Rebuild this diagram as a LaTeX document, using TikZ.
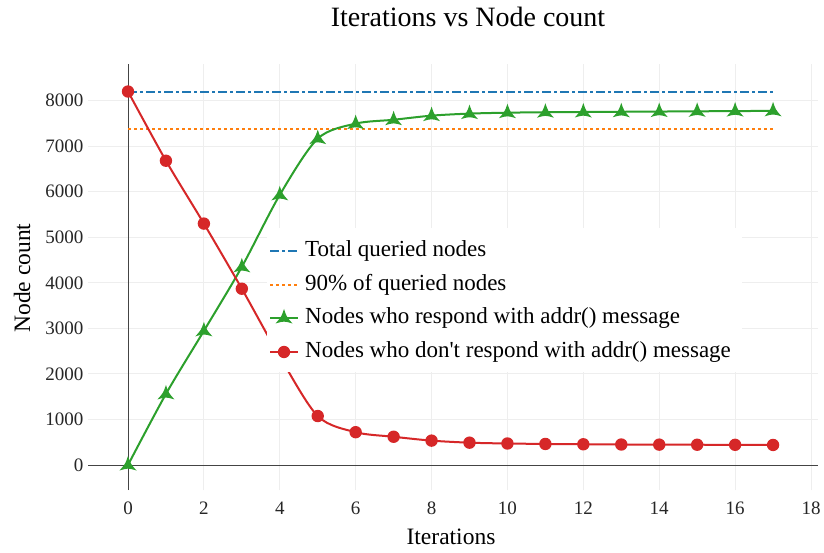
\documentclass[tikz,border=0pt]{standalone}
\usepackage{fontspec}
\setmainfont{Liberation Serif}[Ligatures=TeXOff]
\definecolor{pblue}{HTML}{1F77B4}
\definecolor{porange}{HTML}{FF7F0E}
\definecolor{pgreen}{HTML}{2CA02C}
\definecolor{pred}{HTML}{D62728}
\definecolor{gridc}{HTML}{EEEEEE}
\definecolor{zeroc}{HTML}{444444}
\tikzset{
  gridline/.style={draw=gridc, line width=1pt},
  zeroline/.style={draw=zeroc, line width=1pt},
  ticklab/.style={font=\fontsize{19}{19}\selectfont, text=black!85, inner sep=0pt},
  legtext/.style={font=\fontsize{23}{23}\selectfont, anchor=west, inner sep=0pt},
  totline/.style={draw=pblue, line width=2pt, dash pattern=on 9pt off 3pt on 3pt off 3pt},
  pctline/.style={draw=porange, line width=2pt, dash pattern=on 3pt off 3pt},
  respline/.style={draw=pgreen, line width=2pt},
  noline/.style={draw=pred, line width=2pt},
  trimark/.pic={\fill[pgreen, x=1pt, y=1pt] (0,9) .. controls (-2.6,1.2) .. (-8.5,-5.5) .. controls (0,-3) .. (8.5,-5.5) .. controls (2.6,1.2) .. cycle;},
  dotmark/.pic={\fill[pred] (0,0) circle (6.2pt);}
}
\begin{document}
\begin{tikzpicture}[x=1pt,y=1pt]
\useasboundingbox (0,0) rectangle (824,552);
\fill[white] (0,0) rectangle (824,552);
% title and axis titles
\node[font=\fontsize{28}{28}\selectfont] (title) at (468,535) {Iterations vs Node count};
\node[font=\fontsize{23.5}{23.5}\selectfont, rotate=90] (ylab) at (22,274) {Node count};
\node[font=\fontsize{23.5}{23.5}\selectfont] (xlab) at (451,15) {Iterations};
\begin{scope}[shift={(128,87)}]
\begin{scope}[x=37.944pt, y=0.04555pt]
  % grid
  \foreach \xv in {2,4,...,18} \draw[gridline] (\xv,-549) -- (\xv,8813);
  \foreach \yv in {1000,2000,...,8000} \draw[gridline] (-1.054,\yv) -- (18.19,\yv);
  % zero lines
  \draw[zeroline] (-1.054,0) -- (18.19,0);
  \draw[zeroline] (0,-549) -- (0,8813);
  % tick labels
  \foreach \xv in {0,2,...,18} \node[ticklab] at (\xv,-950) {\xv};
  \foreach \yv in {0,1000,...,8000} \node[ticklab, anchor=east] at (-1.17,\yv) {\yv};
  % reference lines
  \coordinate (t0) at (0,8200); \coordinate (t1) at (17,8200);
  \coordinate (p0) at (0,7380); \coordinate (p1) at (17,7380);
  \draw[totline] (t0) -- (t1);
  \draw[pctline] (p0) -- (p1);
  % responding nodes
  \draw[respline] plot[smooth, tension=0.5] coordinates {(0,0)(1,1560)(2,2945)(3,4350)(4,5930)(5,7165)(6,7495)(7,7580)(8,7670)(9,7715)(10,7735)(11,7745)(12,7750)(13,7755)(14,7760)(15,7765)(16,7770)(17,7775)};
  \foreach \xv/\yv in {0/0,1/1560,2/2945,3/4350,4/5930,5/7165,6/7495,7/7580,8/7670,9/7715,10/7735,11/7745,12/7750,13/7755,14/7760,15/7765,16/7770,17/7775}
    \pic at (\xv,\yv) {trimark};
  % non-responding nodes
  \draw[noline] plot[smooth, tension=0.5] coordinates {(0,8200)(1,6680)(2,5300)(3,3870)(4,2380)(5,1075)(6,720)(7,620)(8,535)(9,490)(10,472)(11,462)(12,455)(13,450)(14,447)(15,445)(16,443)(17,440)};
  \foreach \xv/\yv in {0/8200,1/6680,2/5300,3/3870,4/2380,5/1075,6/720,7/620,8/535,9/490,10/472,11/462,12/455,13/450,14/447,15/445,16/443,17/440}
    \pic at (\xv,\yv) {dotmark};
\end{scope}
\end{scope}
% legend
\fill[white] (267,180) rectangle (742,324);
\coordinate (l1a) at (270,301); \coordinate (l1b) at (298,301);
\coordinate (l2a) at (270,267); \coordinate (l2b) at (298,267);
\coordinate (l3a) at (270,234); \coordinate (l3b) at (298,234);
\coordinate (l4a) at (270,200); \coordinate (l4b) at (298,200);
\draw[totline] (l1a) -- (l1b);
\draw[pctline] (l2a) -- (l2b);
\draw[respline] (l3a) -- (l3b); \pic at (284,234) {trimark};
\draw[noline] (l4a) -- (l4b); \pic at (284,200) {dotmark};
\node[legtext] (leg1) at (305,301) {Total queried nodes};
\node[legtext] (leg2) at (305,267) {90\% of queried nodes};
\node[legtext] (leg3) at (305,234) {Nodes who respond with addr() message};
\node[legtext] (leg4) at (305,200) {Nodes who don't respond with addr() message};
\end{tikzpicture}
\end{document}
